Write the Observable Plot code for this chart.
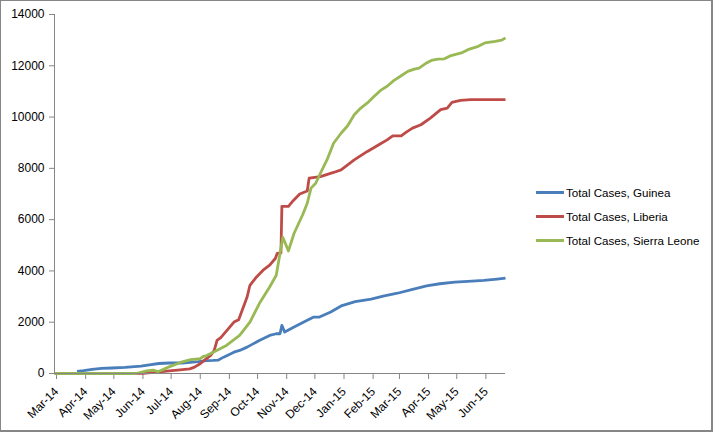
<!DOCTYPE html>
<html>
<head>
<meta charset="utf-8">
<script src="https://cdn.jsdelivr.net/npm/d3@7"></script>
<script src="https://cdn.jsdelivr.net/npm/@observablehq/plot@0.6"></script>
<style>
  html, body { margin: 0; padding: 0; background: #fff; }
  #wrap { position: relative; width: 713px; height: 432px; overflow: hidden; }
  #frame { position: absolute; left: 0; top: 0; width: 713px; height: 432px; box-sizing: border-box;
           border-left: 1px solid #868686; border-top: 1px solid #868686;
           border-right: 2px solid #868686; border-bottom: 2px solid #868686; pointer-events: none; }
  #legend { position: absolute; left: 536px; top: 181px; font-family: "Liberation Sans", Arial, sans-serif;
            font-size: 11.6px; color: #000; }
  .item { display: flex; align-items: center; height: 23.8px; }
  .swatch { width: 28px; height: 3px; margin-right: 2px; }
</style>
</head>
<body>
<div id="wrap"><div id="chart"></div><div id="legend"></div><div id="frame"></div></div>
<script>
const seriesNames = ["Total Cases, Guinea", "Total Cases, Liberia", "Total Cases, Sierra Leone"];
const seriesColors = ["#4A7EBB", "#BE4B48", "#98B954"];

const guineaDates = ["2014-03-25","2014-04-01","2014-04-10","2014-04-20","2014-05-01","2014-05-15","2014-06-01","2014-06-10","2014-06-20","2014-07-01","2014-07-15","2014-08-01","2014-08-10","2014-08-17","2014-08-22","2014-08-28","2014-09-08","2014-09-14","2014-09-22","2014-10-05","2014-10-16","2014-10-23","2014-10-27","2014-10-29","2014-11-01","2014-11-11","2014-11-25","2014-12-02","2014-12-08","2014-12-20","2015-01-01","2015-01-15","2015-02-01","2015-02-15","2015-03-01","2015-03-15","2015-04-01","2015-04-15","2015-05-01","2015-05-15","2015-06-01","2015-06-15","2015-06-24"];
const guineaCases = [86,115,160,200,215,235,285,340,390,410,410,460,500,508,520,638,833,900,1029,1290,1486,1550,1550,1877,1615,1810,2073,2200,2200,2400,2650,2800,2900,3030,3130,3260,3420,3500,3560,3590,3630,3680,3718];

const liberiaDates = ["2014-03-01","2014-06-03","2014-06-15","2014-07-01","2014-07-10","2014-07-23","2014-07-28","2014-08-03","2014-08-09","2014-08-14","2014-08-18","2014-08-21","2014-08-25","2014-09-08","2014-09-13","2014-09-22","2014-09-25","2014-10-02","2014-10-09","2014-10-16","2014-10-22","2014-10-24","2014-10-28","2014-10-29","2014-11-05","2014-11-10","2014-11-17","2014-11-25","2014-11-27","2014-12-09","2014-12-23","2014-12-31","2015-01-14","2015-01-28","2015-02-11","2015-02-18","2015-02-24","2015-03-05","2015-03-10","2015-03-17","2015-03-26","2015-04-05","2015-04-16","2015-04-23","2015-04-28","2015-05-07","2015-05-18","2015-06-24"];
const liberiaCases = [0,5,40,100,130,180,250,380,560,700,900,1290,1400,2006,2100,2985,3440,3766,4028,4224,4485,4680,4700,6520,6520,6740,7000,7120,7620,7680,7840,7940,8330,8660,8960,9110,9270,9270,9400,9570,9700,9960,10290,10350,10570,10650,10680,10680];

const sierraDates = ["2014-03-01","2014-05-27","2014-06-07","2014-06-14","2014-06-19","2014-06-25","2014-07-01","2014-07-13","2014-07-24","2014-08-03","2014-08-06","2014-08-10","2014-08-17","2014-08-31","2014-09-14","2014-09-25","2014-10-05","2014-10-16","2014-10-23","2014-10-30","2014-11-05","2014-11-11","2014-11-20","2014-11-25","2014-11-29","2014-12-04","2014-12-09","2014-12-16","2014-12-23","2014-12-31","2015-01-07","2015-01-14","2015-01-21","2015-01-28","2015-02-04","2015-02-11","2015-02-18","2015-02-25","2015-03-05","2015-03-12","2015-03-19","2015-03-24","2015-04-01","2015-04-06","2015-04-13","2015-04-20","2015-04-27","2015-05-08","2015-05-15","2015-05-26","2015-06-02","2015-06-13","2015-06-20","2015-06-24"];
const sierraCases = [0,0,100,130,70,160,260,430,540,575,660,700,833,1095,1486,2006,2726,3375,3833,5310,4780,5470,6180,6640,7230,7420,7810,8330,8980,9370,9660,10090,10350,10550,10800,11040,11200,11420,11610,11780,11870,11910,12110,12210,12260,12270,12400,12500,12630,12760,12890,12950,13000,13090];

const xTicks = ["2014-03-01","2014-04-01","2014-05-01","2014-06-01","2014-07-01","2014-08-01","2014-09-01","2014-10-01","2014-11-01","2014-12-01","2015-01-01","2015-02-01","2015-03-01","2015-04-01","2015-05-01","2015-06-01"];
const xDomain = ["2014-03-01","2015-06-24"];
const yTicks = [0,2000,4000,6000,8000,10000,12000,14000];

const parse = d3.utcParse("%Y-%m-%d");
const rows = [];
[[guineaDates, guineaCases], [liberiaDates, liberiaCases], [sierraDates, sierraCases]].forEach(([ds, vs], i) => {
  ds.forEach((d, j) => rows.push({series: seriesNames[i], date: parse(d), cases: vs[j]}));
});

const axisColor = "#868686";
const chart = Plot.plot({
  width: 713, height: 432,
  marginLeft: 54, marginTop: 14, marginRight: 208, marginBottom: 59,
  style: {fontFamily: "'Liberation Sans', Arial, sans-serif", fontSize: "12px", color: "#000", background: "#fff"},
  x: {type: "utc", domain: xDomain.map(parse)},
  y: {domain: [0, 14000]},
  color: {domain: seriesNames, range: seriesColors},
  marks: [
    Plot.axisY({ticks: yTicks, tickSize: 5, tickPadding: 5, stroke: axisColor, fill: "#000", label: null, tickFormat: d => String(d)}),
    Plot.axisX({ticks: xTicks.map(parse), tickSize: 6, tickPadding: 10, dx: 2, tickRotate: -45, stroke: axisColor, fill: "#000", label: null, tickFormat: d3.utcFormat("%b-%y")}),
    Plot.line(rows, {x: "date", y: "cases", z: "series", stroke: "series", strokeWidth: 2.8, strokeLinejoin: "round", strokeLinecap: "butt"}),
    Plot.ruleX([parse(xDomain[0])], {stroke: axisColor}),
    Plot.ruleY([0], {stroke: axisColor})
  ]
});
document.getElementById("chart").appendChild(chart);

const legend = document.getElementById("legend");
seriesNames.forEach((name, i) => {
  const item = document.createElement("div");
  item.className = "item";
  const sw = document.createElement("div");
  sw.className = "swatch";
  sw.style.background = seriesColors[i];
  const label = document.createElement("span");
  label.textContent = name;
  item.appendChild(sw); item.appendChild(label);
  legend.appendChild(item);
});
</script>
</body>
</html>
